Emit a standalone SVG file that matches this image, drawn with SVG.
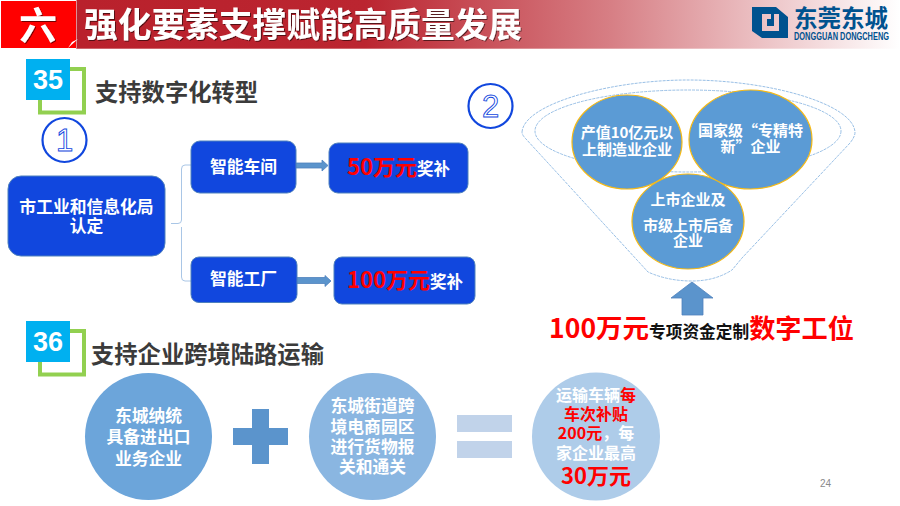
<svg xmlns="http://www.w3.org/2000/svg" width="900" height="506" viewBox="0 0 900 506">
<defs>
<linearGradient id="band" x1="0" y1="0" x2="1" y2="0"><stop offset="0" stop-color="#b9212c"/><stop offset="0.35" stop-color="#bb2530"/><stop offset="0.65" stop-color="#d77f85"/><stop offset="1" stop-color="#ffffff"/></linearGradient>
<filter id="sh" x="-10%" y="-10%" width="120%" height="130%"><feDropShadow dx="1" dy="1" stdDeviation="0.6" flood-color="#000" flood-opacity="0.55"/></filter>
</defs>
<style>
text{font-family:"Noto Sans CJK SC","Liberation Sans",sans-serif;text-anchor:middle}
.b{font-weight:700}
.w{fill:#fff;font-weight:700}
.r{fill:#f00;font-weight:700}
.box{fill:#1147de;stroke:#4f81bd;stroke-width:1}
.num{font-family:"Liberation Sans",sans-serif;font-weight:700;font-size:27px;fill:#fff}
.h{font-size:23.300px;font-weight:700;fill:#3b3b3b;text-anchor:start}
.ring{fill:#fff;stroke:#1147de;stroke-width:2.200}
.dig{font-family:"Liberation Sans",sans-serif;font-size:31px;fill:#fff;stroke:#1147de;stroke-width:.9}
.oval{fill:#5b9bd5;stroke:#f5b915;stroke-width:1.200}
.f15{font-size:15px}
.f17{font-size:16.800px}
.fn{fill:none;stroke:#8db8e2;stroke-width:.9;stroke-dasharray:3 1}
.arr{fill:#5b94cc;stroke:#4f81bd;stroke-width:.8}
</style>
<rect width="900" height="506" fill="#fff"/>
<g id="header">
<rect x="76" y="0" width="824" height="48.700" fill="url(#band)"/>
<rect x="0" y="0" width="76.500" height="48.500" fill="#fff"/>
<rect x="1" y="1" width="75" height="47" fill="#f00"/>
<path d="M68 48 L78 39 L72 42 Z" fill="#fff"/>
<text x="38" y="39" class="w" font-size="38" filter="url(#sh)">六</text>
<text x="303" y="37" class="w" font-size="33.700" filter="url(#sh)">强化要素支撑赋能高质量发展</text>
</g>
<g id="logo">
<path d="M752 7H776L788 17V38H762L752 31ZM762 14V31H779V14H774V26H767V19H771V14Z" fill="#00528f"/>
<text x="841" y="27" class="b" font-size="23.500" fill="#00528f">东莞东城</text>
<text x="841.500" y="40" font-size="10" class="b" style="font-family:'Liberation Sans',sans-serif" fill="#00528f" textLength="95" lengthAdjust="spacingAndGlyphs">DONGGUAN DONGCHENG</text>
</g>
<g id="connectors">
<path d="M171 223.500H178Q181.500 223.500 181.500 220V169Q181.500 165 185 165H191M181.500 227V277Q181.500 281 185 281H191" fill="none" stroke="#a9c6e6" stroke-width="1"/>
<path class="arr" d="M296 163H322V160L328 165.500L322 171V168H296Z"/>
<path class="arr" d="M297 277.500H325V275.500L331 281L325 286.500V283.500H297Z"/>
<path class="arr" d="M692 282L713 298H703V315H682V298H671Z"/>
</g>
<g id="badge-35">
<rect x="40" y="69" width="44" height="43.500" fill="none" stroke="#92d050" stroke-width="4"/>
<rect x="26" y="59" width="44" height="41" fill="#00b0f0"/>
<text x="48" y="89" class="num">35</text>
</g>
<text id="heading-35" x="95" y="101" class="h">支持数字化转型</text>
<g id="marker-1">
<circle cx="64.500" cy="140" r="22" class="ring"/>
<text x="64.500" y="150.500" class="dig">1</text>
</g>
<g id="node-bureau">
<rect x="8" y="176" width="157" height="80" rx="13" class="box"/>
<text x="86.500" y="213" class="w f17">市工业和信息化局</text>
<text x="86.500" y="232" class="w f17">认定</text>
</g>
<g id="node-workshop">
<rect x="191" y="141" width="105" height="52" rx="9" class="box"/>
<text x="243.500" y="173" class="w f17">智能车间</text>
</g>
<g id="node-50">
<rect x="329" y="143" width="139" height="50" rx="9" class="box"/>
<text x="398.500" y="175"><tspan class="r" font-size="22">50万元</tspan><tspan class="w" font-size="16.500">奖补</tspan></text>
</g>
<g id="node-factory">
<rect x="191" y="257" width="106" height="45.500" rx="8" class="box"/>
<text x="243.500" y="285" class="w f17">智能工厂</text>
</g>
<g id="node-100">
<rect x="334" y="257" width="141" height="47" rx="8" class="box"/>
<text x="405" y="288"><tspan class="r" font-size="22">100万元</tspan><tspan class="w" font-size="16.500">奖补</tspan></text>
</g>
<g id="marker-2">
<circle cx="490.500" cy="106" r="22" class="ring"/>
<text x="490.500" y="117" class="dig">2</text>
</g>
<g id="funnel">
<path class="fn" d="M522 132C524 104 610 80 688 80C770 80 853 104 855 132C855 136 853 139 850 143L742 258L732 270Q715 281 692 281Q668 281 648 272L637 260L526 139Q522 135 522 132Z"/>
<ellipse cx="688" cy="131" rx="153" ry="41" class="fn"/>
</g>
<g id="node-output">
<ellipse cx="627" cy="142" rx="55" ry="47" class="oval"/>
<text x="627" y="138" class="w f15">产值10亿元以</text>
<text x="627" y="155" class="w f15">上制造业企业</text>
</g>
<g id="node-national">
<ellipse cx="750.500" cy="139.500" rx="61.500" ry="49.500" class="oval"/>
<text x="750.500" y="136" class="w f15">国家级“专精特</text>
<text x="750.500" y="152" class="w f15">新”企业</text>
</g>
<g id="node-listed">
<ellipse cx="688" cy="221.500" rx="56" ry="47.500" class="oval"/>
<text x="688" y="205" class="w f15">上市企业及</text>
<text x="688" y="231" class="w f15">市级上市后备</text>
<text x="688" y="246" class="w f15">企业</text>
</g>
<text id="funnel-caption" x="701.500" y="338"><tspan class="r" font-size="26.500">100万元</tspan><tspan class="b" font-size="16.700" fill="#111">专项资金定制</tspan><tspan class="r" font-size="26.200">数字工位</tspan></text>
<g id="badge-36">
<rect x="40" y="331" width="44" height="43.500" fill="none" stroke="#92d050" stroke-width="4"/>
<rect x="26" y="321" width="44" height="41" fill="#00b0f0"/>
<text x="48" y="351" class="num">36</text>
</g>
<text id="heading-36" x="91" y="363" class="h">支持企业跨境陆路运输</text>
<g id="node-c1">
<circle cx="148.500" cy="436.500" r="63.500" fill="#6ca5da"/>
<text x="148.500" y="422" class="w f17">东城纳统</text>
<text x="148.500" y="443" class="w f17">具备进出口</text>
<text x="148.500" y="465" class="w f17">业务企业</text>
</g>
<g id="plus"><path d="M252 409H269V428H288V445H269V464H252V445H233V428H252Z" fill="#5b94cc"/></g>
<g id="node-c2">
<circle cx="372.500" cy="436.500" r="63.500" fill="#8ab6e1"/>
<text x="372.500" y="412" class="w f17">东城街道跨</text>
<text x="372.500" y="432.500" class="w f17">境电商园区</text>
<text x="372.500" y="453" class="w f17">进行货物报</text>
<text x="372.500" y="473" class="w f17">关和通关</text>
</g>
<g id="equals"><rect x="457" y="415" width="55" height="17" fill="#c1d3ea"/><rect x="457" y="441" width="55" height="17" fill="#c1d3ea"/></g>
<g id="node-c3">
<circle cx="596" cy="436.500" r="64" fill="#aecce9"/>
<text x="596" y="400.500" font-size="16"><tspan class="w">运输车辆</tspan><tspan class="r">每</tspan></text>
<text x="596" y="419.500" font-size="16" class="r">车次补贴</text>
<text x="596" y="439" font-size="16"><tspan class="r">200元</tspan><tspan class="w">，每</tspan></text>
<text x="596" y="459" font-size="16" class="w">家企业最高</text>
<text x="596" y="484" font-size="22" class="r">30万元</text>
</g>
<text id="page-number" x="825.500" y="487" font-size="10" fill="#8a8a8a" style="font-family:'Liberation Sans',sans-serif">24</text>
</svg>
